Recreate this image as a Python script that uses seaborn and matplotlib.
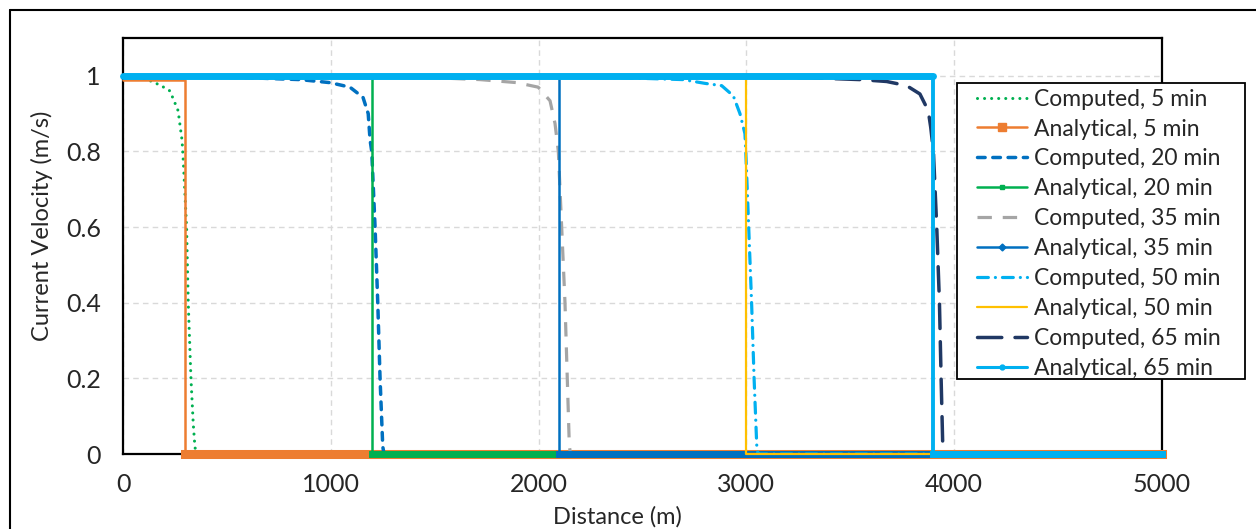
import numpy as np
import pandas as pd
import seaborn as sns
import matplotlib
matplotlib.use("Agg")
import matplotlib.pyplot as plt
from matplotlib.lines import Line2D
from matplotlib.patches import Rectangle

# ---------------- data ----------------
times = [5, 20, 35, 50, 65]
x_max = 5000
# analytical front position (m) and upstream velocity (m/s)
front_positions = [300, 1200, 2100, 3000, 3900]
upstream_vel = [0.99, 1.0, 1.0, 1.0, 1.0]

comp5_x = [0, 80, 130, 180, 226, 265, 284, 290, 306, 314, 327, 338, 346, 352, 5000]
comp5_y = [1.0, 0.995, 0.987, 0.975, 0.96, 0.908, 0.83, 0.776, 0.6, 0.4, 0.2, 0.08, 0.02, 0.0, 0.0]

comp20_x = [0, 600, 852, 996, 1092, 1155, 1180, 1189, 1197, 1213, 1226, 1237, 1250, 1256, 5000]
comp20_y = [1.0, 0.995, 0.99, 0.982, 0.97, 0.943, 0.9, 0.83, 0.8, 0.6, 0.4, 0.2, 0.02, 0.0, 0.0]

comp35_x = [0, 1500, 1718, 1895, 1998, 2055, 2079, 2095, 2111, 2127, 2138, 2148, 2154, 5000]
comp35_y = [1.0, 0.995, 0.99, 0.982, 0.97, 0.934, 0.874, 0.8, 0.6, 0.4, 0.2, 0.02, 0.0, 0.0]

comp50_x = [0, 2400, 2695, 2801, 2881, 2937, 2969, 2993, 2997, 3011, 3025, 3037, 3050, 3056, 5000]
comp50_y = [1.0, 0.995, 0.99, 0.98, 0.974, 0.947, 0.9, 0.847, 0.8, 0.6, 0.4, 0.2, 0.02, 0.0, 0.0]

comp65_x = [0, 3300, 3547, 3675, 3771, 3835, 3875, 3887, 3900, 3916, 3929, 3937, 3945, 3951, 5000]
comp65_y = [1.0, 0.995, 0.99, 0.985, 0.974, 0.952, 0.908, 0.864, 0.8, 0.6, 0.4, 0.2, 0.02, 0.0, 0.0]

computed_x = [comp5_x, comp20_x, comp35_x, comp50_x, comp65_x]
computed_y = [comp5_y, comp20_y, comp35_y, comp50_y, comp65_y]

x_ticks = [0, 1000, 2000, 3000, 4000, 5000]
y_ticks = [0, 0.2, 0.4, 0.6, 0.8, 1.0]
y_tick_labels = ["0", "0.2", "0.4", "0.6", "0.8", "1"]

# ---------------- styles ----------------
comp_colors = ["#00B050", "#0070C0", "#A5A5A5", "#00B0F0", "#203864"]
comp_dashes = [(0, (0.01, 2.3)), (0, (2.2, 2.2)), (0, (4.5, 3.4)),
               (0, (3.4, 2.2, 0.01, 2.2)), (0, (7.0, 3.8))]
comp_caps = ["round", "round", "butt", "round", "round"]
comp_lw = [2.2, 2.5, 2.3, 2.3, 2.5]

ana_colors = ["#ED7D31", "#00B050", "#0070C0", "#FFC000", "#00B0F0"]
ana_lw = [1.8, 1.8, 1.8, 1.6, 2.8]
band_lw = [6.5, 5.0, 5.0, 0, 5.0]
ana_markers = ["s", "s", "D", None, "o"]
ana_msize = [6, 3.5, 3.5, 0, 3.5]

sns.set_theme(style="white")
plt.rcParams["font.family"] = ["Lato", "DejaVu Sans"]
text_color = "#262626"

W, H = 1256, 529
fig = plt.figure(figsize=(W / 100, H / 100), dpi=100)
ax = fig.add_axes([123 / W, 1 - 454 / H, (1162 - 123) / W, (454 - 38) / H])

for i, t in enumerate(times):
    # computed profile
    sns.lineplot(x=computed_x[i], y=computed_y[i], ax=ax, sort=False, estimator=None,
                 color=comp_colors[i], linewidth=comp_lw[i], linestyle=comp_dashes[i],
                 dash_capstyle=comp_caps[i], label=f"Computed, {t} min")
    # analytical step profile
    xf = front_positions[i]
    u0 = upstream_vel[i]
    ax_x = [0, xf, xf, x_max]
    ax_y = [u0, u0, 0, 0]
    if band_lw[i] > 0:
        if i == len(times) - 1:
            sns.lineplot(x=[0, xf], y=[u0, u0], ax=ax, sort=False, estimator=None,
                         color=ana_colors[i], linewidth=band_lw[i],
                         solid_capstyle="round", clip_on=False, legend=False)
        sns.lineplot(x=[xf, x_max], y=[0, 0], ax=ax, sort=False, estimator=None,
                     color=ana_colors[i], linewidth=band_lw[i],
                     solid_capstyle="projecting", clip_on=False, legend=False)
    sns.lineplot(x=ax_x, y=ax_y, ax=ax, sort=False, estimator=None,
                 color=ana_colors[i], linewidth=ana_lw[i],
                 solid_joinstyle="round", clip_on=False, label=f"Analytical, {t} min")

ax.set_xlim(0, x_max)
ax.set_ylim(0, 1.1)
ax.set_xticks(x_ticks)
ax.set_xticklabels([str(v) for v in x_ticks])
ax.set_yticks(y_ticks)
ax.set_yticklabels(y_tick_labels)
ax.set_xlabel("")
ax.set_ylabel("")
ax.grid(True, color="#D9D9D9", linestyle=(0, (4, 3)), linewidth=1.0)
ax.set_axisbelow(True)
for s in ax.spines.values():
    s.set_color("black")
    s.set_linewidth(1.6)
    s.set_zorder(1.5)
ax.tick_params(axis="both", direction="in", length=7, width=1.6, color="black",
               labelsize=18, labelcolor=text_color)
ax.tick_params(axis="y", pad=16)
ax.tick_params(axis="x", pad=14)

# legend (handles styled like the series)
labels = []
new_handles = []
for i, t in enumerate(times):
    new_handles.append(Line2D([], [], color=comp_colors[i], linewidth=comp_lw[i],
                              linestyle=comp_dashes[i], dash_capstyle=comp_caps[i]))
    labels.append(f"Computed, {t} min")
    h = Line2D([], [], color=ana_colors[i], linewidth=min(ana_lw[i], 2.2))
    if ana_markers[i]:
        h.set_marker(ana_markers[i])
        h.set_markersize(ana_msize[i])
    new_handles.append(h)
    labels.append(f"Analytical, {t} min")
leg = ax.legend(new_handles, labels, loc="upper left",
                bbox_to_anchor=(972 / W, 1 - 84 / H), bbox_transform=fig.transFigure,
                frameon=False, fontsize=16.5, handlelength=2.2, handletextpad=0.3,
                labelspacing=0.39, borderpad=0.2, borderaxespad=0.0, numpoints=1)
for txt in leg.get_texts():
    txt.set_color(text_color)
leg.set_zorder(6)
ax.add_patch(Rectangle((957 / W, 1 - 379 / H), (1245 - 957) / W, (379 - 83) / H,
                       transform=fig.transFigure, facecolor="white", edgecolor="black",
                       linewidth=1.3, clip_on=False, zorder=4))

# axis titles
fig.text(617 / W, 1 - 517 / H, "Distance (m)", ha="center", va="center",
         fontsize=17, color=text_color)
fig.text(42 / W, 1 - 226 / H, "Current Velocity (m/s)", ha="center", va="center",
         rotation=90, fontsize=17, color=text_color)

# chart-area border (left and top edges visible)
fig.add_artist(Line2D([10 / W, 10 / W], [0, 1 - 10 / H], transform=fig.transFigure,
                      color="black", linewidth=1.5))
fig.add_artist(Line2D([10 / W, 1], [1 - 10 / H, 1 - 10 / H], transform=fig.transFigure,
                      color="black", linewidth=1.5))

fig.savefig("out.png", dpi=100, facecolor="white")
